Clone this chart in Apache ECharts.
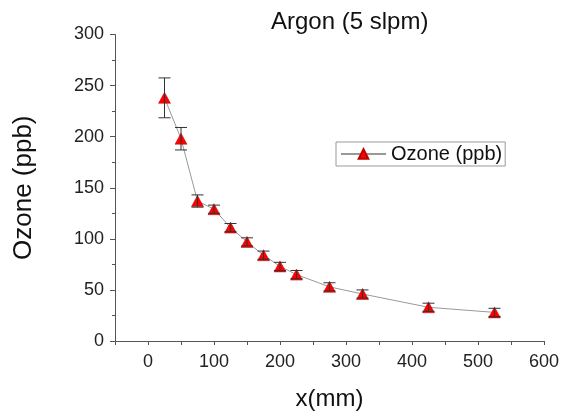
<!DOCTYPE html>
<html>
<head>
<meta charset="utf-8">
<script src="https://cdn.jsdelivr.net/npm/echarts@6/dist/echarts.min.js"></script>
<style>
  html, body { margin: 0; padding: 0; background: #fff; }
  #chart { width: 567px; height: 416px; }
</style>
</head>
<body>
<div id="chart"></div>
<script>
// distance (mm) vs ozone (ppb), argon 5 slpm
const xValues = [25, 50, 75, 100, 125, 150, 175, 200, 225, 275, 325, 425, 525]
const ozone = [238, 198, 137, 129, 111, 97, 84, 73, 65, 53, 46, 33, 28]
const ozoneErr = [19.5, 11, 6, 4, 4, 4, 4, 4, 4, 4, 4, 4, 4]
const xLabels = [0, 100, 200, 300, 400, 500, 600]

const font = "Arial, 'Liberation Sans', sans-serif"
const points = xValues.map((x, i) => [x, ozone[i]])
const errRows = xValues.map((x, i) => [x, ozone[i] - ozoneErr[i], ozone[i] + ozoneErr[i]])

const chart = echarts.init(document.getElementById('chart'))

chart.setOption({
  animation: false,
  title: {
    text: 'Argon (5 slpm)',
    left: 266,
    top: 5,
    textStyle: { fontFamily: font, fontSize: 24, fontWeight: 'normal', color: '#111' },
  },
  legend: {
    left: 336,
    top: 142,
    orient: 'vertical',
    data: ['Ozone (ppb)'],
    itemWidth: 45,
    itemHeight: 12,
    padding: [2, 3, 2, 4],
    borderColor: '#999',
    borderWidth: 1,
    textStyle: { fontFamily: font, fontSize: 20, color: '#111', lineHeight: 20 },
  },
  grid: { left: 115, right: 23, top: 34.5, bottom: 70.5, containLabel: false },
  xAxis: {
    type: 'value',
    min: -50,
    max: 600,
    interval: 50,
    name: 'x(mm)',
    nameLocation: 'middle',
    nameGap: 46,
    nameTextStyle: { fontFamily: font, fontSize: 24, color: '#111' },
    splitLine: { show: false },
    axisLine: { onZero: false, lineStyle: { color: '#555' } },
    axisTick: { length: 4, lineStyle: { color: '#555' } },
    axisLabel: {
      margin: 12,
      fontFamily: font,
      fontSize: 18,
      color: '#222',
      formatter: v => (xLabels.includes(v) ? String(v) : ''),
    },
  },
  yAxis: {
    type: 'value',
    min: 0,
    max: 300,
    interval: 50,
    name: 'Ozone (ppb)',
    nameLocation: 'middle',
    nameGap: 78,
    nameTextStyle: { fontFamily: font, fontSize: 26, color: '#111' },
    splitLine: { show: false },
    axisLine: { show: true, onZero: false, lineStyle: { color: '#555' } },
    axisTick: { show: true, length: 5, lineStyle: { color: '#555' } },
    minorTick: { show: true, splitNumber: 2, length: 3, lineStyle: { color: '#555' } },
    axisLabel: { margin: 11, fontFamily: font, fontSize: 18, color: '#222' },
  },
  series: [
    {
      name: 'Ozone (ppb)',
      type: 'line',
      data: points,
      symbol: 'triangle',
      symbolSize: [12, 11],
      lineStyle: { color: '#999', width: 1 },
      itemStyle: { color: '#f00', borderColor: '#b00', borderWidth: 0.5 },
      z: 2,
    },
    {
      type: 'custom',
      data: errRows,
      z: 3,
      renderItem: (params, api) => {
        const lo = api.coord([api.value(0), api.value(1)])
        const hi = api.coord([api.value(0), api.value(2)])
        const w = 6
        const style = { stroke: '#333', lineWidth: 1 }
        return {
          type: 'group',
          children: [
            { type: 'line', shape: { x1: hi[0], y1: hi[1], x2: lo[0], y2: lo[1] }, style },
            { type: 'line', shape: { x1: hi[0] - w, y1: hi[1], x2: hi[0] + w, y2: hi[1] }, style },
            { type: 'line', shape: { x1: lo[0] - w, y1: lo[1], x2: lo[0] + w, y2: lo[1] }, style },
          ],
        }
      },
    },
  ],
})
</script>
</body>
</html>
